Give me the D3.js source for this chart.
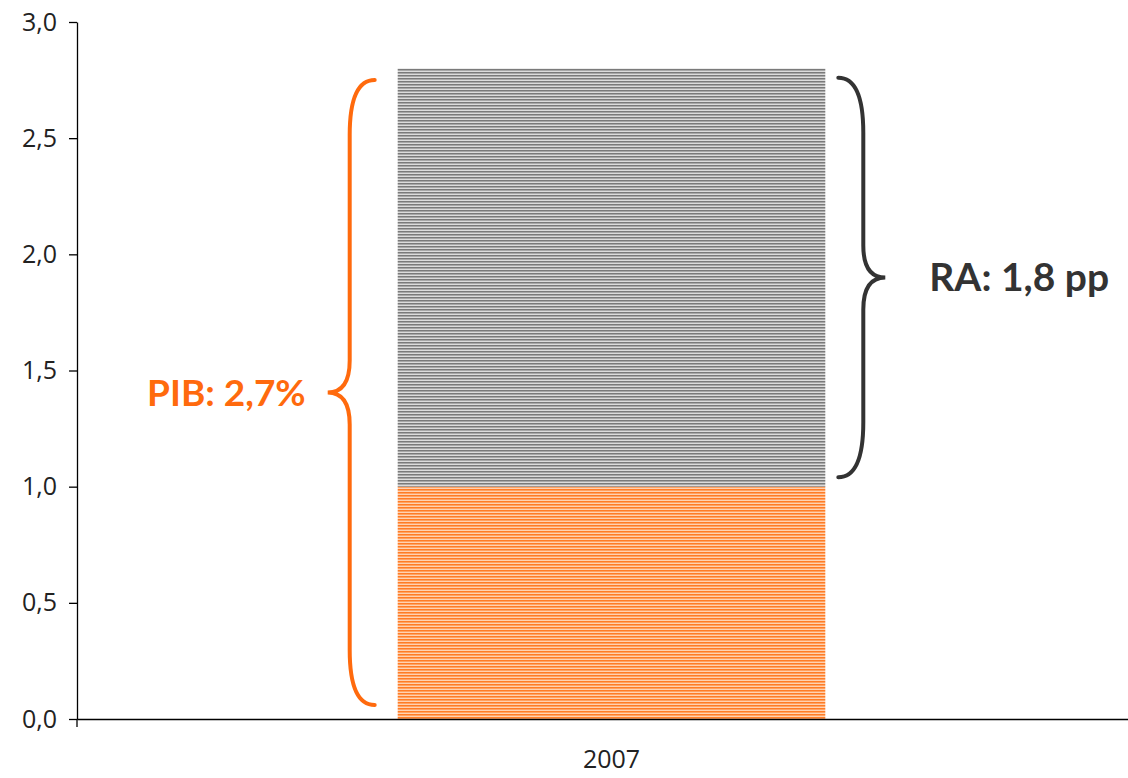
<!DOCTYPE html>
<html>
<head>
<meta charset="utf-8">
<script src="https://cdn.jsdelivr.net/npm/d3@7"></script>
<style>
	body { margin: 0; background: #fff; }
	svg { display: block; }
	.tick text { font-family: "Open Sans", Lato, sans-serif; font-size: 25px; fill: #222; }
</style>
</head>
<body>
<svg id="chart" width="1128" height="778"></svg>
<script>
// data
var categories = ["2007"];
var pibPart = [1.0];     // orange segment
var raPart = [1.8];      // gray segment on top
var yTicks = [0, 0.5, 1, 1.5, 2, 2.5, 3];
var pibLabel = "PIB: 2,7%";
var raLabel = "RA: 1,8 pp";

var svg = d3.select("#chart");
var margin = {left: 77, right: 0, top: 22, bottom: 59};
var W = 1128, H = 778;

// the category band runs a bit past the right edge of the picture
var x = d3.scaleBand()
	.domain(categories)
	.range([margin.left, W + 18])
	.paddingInner(0.6)
	.paddingOuter(0.3);

var y = d3.scaleLinear()
	.domain([0, 3])
	.range([H - margin.bottom, margin.top]);

// striped fills
var defs = svg.append("defs");
function stripes(id, colors) {
	var p = defs.append("pattern")
		.attr("id", id)
		.attr("patternUnits", "userSpaceOnUse")
		.attr("width", 8)
		.attr("height", colors.length);
	colors.forEach(function(c, i) {
		p.append("rect")
			.attr("x", 0).attr("y", i)
			.attr("width", 8).attr("height", 1)
			.attr("fill", c);
	});
}
stripes("gray-stripes", ["#7a7a7a", "#a8a8a8", "#dcdcdc"]);
stripes("orange-stripes", ["#ff7c26", "#ffa262", "#ffd2b2"]);

// stacked segments
var stack = categories.map(function(c, i) {
	return {cat: c, base: pibPart[i], top: pibPart[i] + raPart[i]};
});

svg.append("g").selectAll("rect.pib")
	.data(stack)
	.enter()
	.append("rect")
	.attr("x", function(d) { return x(d.cat); })
	.attr("width", x.bandwidth())
	.attr("y", function(d) { return y(d.base); })
	.attr("height", function(d) { return y(0) - y(d.base); })
	.attr("fill", "url(#orange-stripes)");

svg.append("g").selectAll("rect.ra")
	.data(stack)
	.enter()
	.append("rect")
	.attr("x", function(d) { return x(d.cat); })
	.attr("width", x.bandwidth())
	.attr("y", function(d) { return y(d.top); })
	.attr("height", function(d) { return y(d.base) - y(d.top); })
	.attr("fill", "url(#gray-stripes)");

// y axis
var yAxis = svg.append("g")
	.attr("transform", "translate(" + margin.left + ",0)")
	.call(d3.axisLeft(y)
		.tickValues(yTicks)
		.tickSize(8)
		.tickSizeOuter(0)
		.tickPadding(12)
		.tickFormat(function(d) { return d3.format(".1f")(d).replace(".", ","); }));
yAxis.selectAll("line, path").attr("stroke", "#000").attr("stroke-width", 1.3);
// axis line pokes a little below zero
yAxis.append("line")
	.attr("x1", 0).attr("x2", 0)
	.attr("y1", y(0)).attr("y2", y(0) + 8)
	.attr("stroke", "#000").attr("stroke-width", 1.3);

// x axis
var xAxis = svg.append("g")
	.attr("transform", "translate(0," + y(0) + ")")
	.call(d3.axisBottom(x).tickSize(0).tickSizeOuter(0).tickPadding(31));
xAxis.select("path").attr("stroke", "#000").attr("stroke-width", 1.3);

// curly braces
function bracePath(bx, y0, y1, dir, r, tip) {
	// bx: backbone x, dir: -1 tip to the left, +1 tip to the right
	var mid = (y0 + y1) / 2;
	var end = bx - dir * r;      // x of the two ends
	var pt = bx + dir * tip;      // x of the tip
	var h = 55;                   // vertical extent of each curl
	return "M" + end + "," + y0 +
		" Q" + bx + "," + y0 + " " + bx + "," + (y0 + h) +
		" L" + bx + "," + (mid - 32) +
		" Q" + bx + "," + mid + " " + pt + "," + mid +
		" Q" + bx + "," + mid + " " + bx + "," + (mid + 32) +
		" L" + bx + "," + (y1 - h) +
		" Q" + bx + "," + y1 + " " + end + "," + y1;
}

var barLeft = x(categories[0]);
var barRight = barLeft + x.bandwidth();

svg.append("path")
	.attr("d", bracePath(barLeft - 48, y(2.75), y(0.06), -1, 25, 22))
	.attr("fill", "none")
	.attr("stroke", "#ff6a0d")
	.attr("stroke-width", 4)
	.attr("stroke-linecap", "round");

svg.append("path")
	.attr("d", bracePath(barRight + 38, y(2.76), y(1.04), 1, 25, 22))
	.attr("fill", "none")
	.attr("stroke", "#333333")
	.attr("stroke-width", 4)
	.attr("stroke-linecap", "round");

svg.append("text")
	.attr("x", barLeft - 92)
	.attr("y", (y(2.75) + y(0.06)) / 2 + 13)
	.attr("text-anchor", "end")
	.style("font-family", "Lato, sans-serif")
	.style("font-weight", "bold")
	.style("font-size", "37px")
	.attr("fill", "#ff6a0d")
	.text(pibLabel);

svg.append("text")
	.attr("x", barRight + 104)
	.attr("y", (y(2.76) + y(1.04)) / 2 + 13)
	.style("font-family", "Lato, sans-serif")
	.style("font-weight", "bold")
	.style("font-size", "39px")
	.attr("fill", "#333333")
	.text(raLabel);
</script>
</body>
</html>
